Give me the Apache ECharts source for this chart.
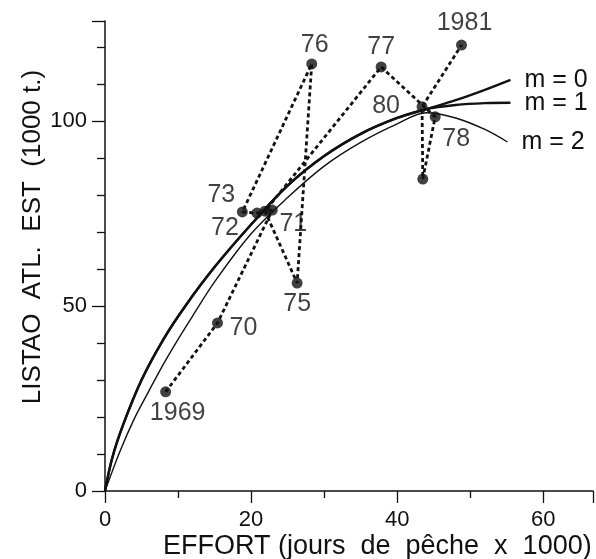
<!DOCTYPE html>
<html><head><meta charset="utf-8">
<script src="https://cdn.jsdelivr.net/npm/echarts@6/dist/echarts.min.js"></script>
<style>html,body{margin:0;padding:0;background:#fff}#c{width:596px;height:559px}</style>
</head><body><div id="c"></div>
<script>
// ---- data ----
const years      = ['1969','70','71','72','73','74','75','76','77','78','79','80','1981'];
const yearLabels = ['1969','70','71','72','73','',  '75','76','77','78','',  '80','1981'];
const effort     = [8.3, 15.4, 22.9, 20.8, 18.8, 21.9, 26.3, 28.3, 37.8, 45.2, 43.5, 43.4, 48.8];
const catches    = [26.8, 45.4, 75.9, 75.1, 75.4, 75.6, 56.2, 115.4, 114.6, 101.1, 84.3, 103.8, 120.5];
// order in which the dotted line joins the points (as drawn)
const pathOrder  = ['1969','70','71','72','73','76','75','74','77','78','79','80','1981'];

// production curves (effort, catch)
const m01Effort  = [0, 1, 2.5, 5, 8, 11, 15, 20, 25, 30, 35, 40, 44];
const m01Catch   = [0, 9, 18, 30, 41, 50, 60.5, 72, 82.5, 90.5, 96.5, 100.8, 103.2];
const m0TailEffort = [48, 52, 55.5];
const m0TailCatch  = [105.6, 108.4, 111.1];
const m1TailEffort = [48, 52, 55.5];
const m1TailCatch  = [104.3, 104.8, 104.9];
const m2Effort   = [0, 2, 4, 6, 8, 10, 12, 15, 20, 25, 30, 35, 40, 44, 48, 52, 55.1];
const m2Catch    = [0, 10.5, 19.5, 27, 34.3, 41, 47.3, 56.5, 69.5, 79.3, 87.8, 94.2, 99.2, 102.2, 100.8, 97.7, 94.3];

const xTickLabels = [0, 20, 40, 60];
const yTickLabels = [0, 50, 100];

// ---- styling (not data) ----
const labelOffsets = {
  '1969':[12,21], '70':[26,5], '71':[21,14], '72':[-32,15], '73':[-21,-17], '74':[0,0],
  '75':[0,21], '76':[3,-19], '77':[0,-20], '78':[21,22], '79':[0,0], '80':[-36,-1], '1981':[3,-22]
};
const FONT = '"Liberation Sans", Arial, Helvetica, sans-serif';
const INK = '#111';

function pairs(xs, ys){ return xs.map((x,i)=>[x, ys[i]]); }

const m0Data = pairs(m01Effort.concat(m0TailEffort), m01Catch.concat(m0TailCatch));
const m1Data = pairs(m01Effort.concat(m1TailEffort), m01Catch.concat(m1TailCatch));
const m2Data = pairs(m2Effort, m2Catch);
const pathData = pathOrder.map(y => { const i = years.indexOf(y); return [effort[i], catches[i]]; });
const dotData = years.map((y,i) => ({
  value: [effort[i], catches[i]],
  label: { offset: labelOffsets[y] }
}));

const chart = echarts.init(document.getElementById('c'), null, {renderer:'canvas'});
chart.setOption({
  animation: false,
  backgroundColor: '#fff',
  grid: { left: 105, right: 0, top: 21, bottom: 68, containLabel: false },
  xAxis: {
    type: 'value', min: 0, max: 66.8, interval: 20,
    axisLine: { show: true, onZero: false, lineStyle: { color: INK, width: 1.5 } },
    axisTick: { show: true, length: 12, lineStyle: { color: INK, width: 1.3 } },
    minorTick: { show: true, splitNumber: 2, length: 7, lineStyle: { color: INK, width: 1.3 } },
    splitLine: { show: false },
    axisLabel: {
      color: INK, fontSize: 22, fontFamily: FONT, margin: 18,
      formatter: v => xTickLabels.includes(v) ? String(v) : ''
    }
  },
  yAxis: {
    type: 'value', min: 0, max: 127, interval: 50,
    axisLine: { show: true, onZero: false, lineStyle: { color: INK, width: 1.5 } },
    axisTick: { show: true, length: 13, lineStyle: { color: INK, width: 1.3 } },
    minorTick: { show: true, splitNumber: 5, length: 8, lineStyle: { color: INK, width: 1.3 } },
    splitLine: { show: false },
    axisLabel: {
      color: INK, fontSize: 22, fontFamily: FONT, margin: 18,
      formatter: v => yTickLabels.includes(v) ? String(v) : ''
    }
  },
  graphic: [
    { type: 'text', left: 163, top: 533,
      style: { text: 'EFFORT (jours  de  pêche  x  1000)', fill: INK, font: '27px ' + FONT } },
    { type: 'text', x: 33, y: 237, rotation: Math.PI / 2,
      style: { text: 'LISTAO  ATL.  EST  (1000 t.)', fill: INK, font: '26px ' + FONT,
               align: 'center', verticalAlign: 'middle' } }
  ],
  series: [
    { type: 'line', data: m0Data, smooth: 0.35, symbol: 'none',
      lineStyle: { color: INK, width: 2.4 },
      endLabel: { show: true, formatter: 'm = 0', color: INK, fontSize: 25, fontFamily: FONT, distance: 14 } },
    { type: 'line', data: m1Data, smooth: 0.35, symbol: 'none',
      lineStyle: { color: INK, width: 2.4 },
      endLabel: { show: true, formatter: 'm = 1', color: INK, fontSize: 25, fontFamily: FONT, distance: 14 } },
    { type: 'line', data: m2Data, smooth: 0.35, symbol: 'none',
      lineStyle: { color: INK, width: 1.4 },
      endLabel: { show: true, formatter: 'm = 2', color: INK, fontSize: 25, fontFamily: FONT, distance: 14 } },
    { type: 'line', data: pathData, symbol: 'none', smooth: false,
      lineStyle: { color: INK, width: 2.8, type: [4, 3] } },
    { type: 'scatter', data: dotData, symbol: 'circle', symbolSize: 11,
      itemStyle: { color: INK },
      label: { show: true, position: 'inside', color: INK, fontSize: 25, fontFamily: FONT,
               formatter: p => yearLabels[p.dataIndex] } }
  ]
});
</script></body></html>
